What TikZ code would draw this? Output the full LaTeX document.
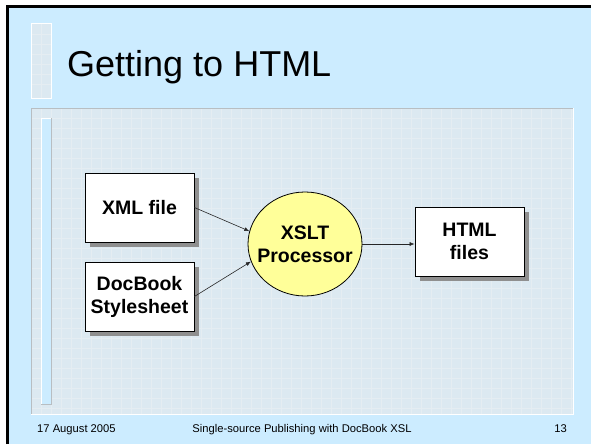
\documentclass[tikz,border=0pt]{standalone}
\usepackage{fontspec}
\setmainfont{Liberation Sans}
\usetikzlibrary{shapes.geometric,arrows.meta,shadows}
\definecolor{slidebg}{HTML}{CCECFF}
\definecolor{panelbg}{HTML}{DCE9F1}
\definecolor{gridc}{HTML}{E5EDF2}
\definecolor{edgegray}{HTML}{B8BEC2}
\definecolor{procfill}{HTML}{FFFF99}
\definecolor{shadowc}{HTML}{8F8F8F}
\tikzset{
  boxfont/.style={font=\fontsize{19.5}{23}\selectfont\bfseries},
  filebox/.style={draw=black, line width=0.8pt, fill=white, inner sep=0pt,
    minimum width=109pt, minimum height=69pt, align=center, boxfont,
    drop shadow={shadow xshift=5pt, shadow yshift=-5pt, fill=shadowc, opacity=1}},
  proc/.style={ellipse, draw=black, line width=0.8pt, fill=procfill, inner sep=0pt,
    minimum width=114pt, minimum height=104pt},
  proclabel/.style={inner sep=0pt, align=center, boxfont},
  flow/.style={draw=black!85, line width=0.6pt, -{Latex[length=5pt,width=4pt]}},
  foot/.style={font=\fontsize{11.2}{13}\selectfont, inner sep=0pt}
}
\begin{document}
\begin{tikzpicture}[x=1pt,y=-1pt]
\useasboundingbox (0,0) rectangle (591,444);
\fill[white] (0,0) rectangle (591,444);
\fill[slidebg] (8,7) rectangle (591,444);
\draw[black, line width=2.5pt] (7.5,444) -- (7.5,6.5) -- (591,6.5);
% title accent bar
\fill[panelbg] (31,24) rectangle (51,98);
\draw[gridc, line width=0.4pt] (31,34) -- (51,34) (31,44) -- (51,44) (31,54) -- (51,54) (31,64) -- (51,64) (31,74) -- (51,74) (31,84) -- (51,84) (41,24) -- (41,98);
\draw[white, line width=1pt] (31,24) rectangle (51,98);
% content panel
\fill[panelbg] (31,108) rectangle (573,414);
\begin{scope}
\clip (31,108) rectangle (573,414);
\foreach \gx in {41,51,...,573} \draw[gridc, line width=0.5pt] (\gx,108) -- (\gx,414);
\foreach \gy in {118,128,...,414} \draw[gridc, line width=0.5pt] (31,\gy) -- (573,\gy);
\end{scope}
\draw[edgegray, line width=1pt] (31,414) -- (31,108) -- (573,108);
\draw[white, line width=1pt] (31,414) -- (573,414) -- (573,108);
% inner accent bar
\fill[slidebg] (41,118) rectangle (51,404);
\draw[white, line width=1pt] (41,404) -- (41,118) -- (51,118);
\draw[edgegray, line width=1pt] (51,118) -- (51,404) -- (41,404);
% title
\node[anchor=base west, inner sep=0pt, font=\fontsize{36}{40}\selectfont] (title) at (67,76) {Getting to HTML};
% diagram
\node[filebox] (xml) at (139.5,207.5) {XML file};
\node[filebox] (dbk) at (139.5,296.5) {DocBook\\Stylesheet};
\node[proc] (xslt) at (305,244) {};
\node[proclabel] (xsltlabel) at (xslt.center) {XSLT\\Processor};
\node[filebox] (html) at (469.5,241.5) {HTML\\files};
\draw[flow] (xml.east) -- (xslt.167);
\draw[flow] (dbk.east) -- (xslt.198);
\draw[flow] (xslt.east) -- (html.west |- xslt.east);
% footer
\node[foot, anchor=base west] (date) at (37,432) {17 August 2005};
\node[foot, anchor=base] (ftitle) at (302,432) {Single-source Publishing with DocBook XSL};
\node[foot, anchor=base east] (pnum) at (567,432) {13};
\end{tikzpicture}
\end{document}
